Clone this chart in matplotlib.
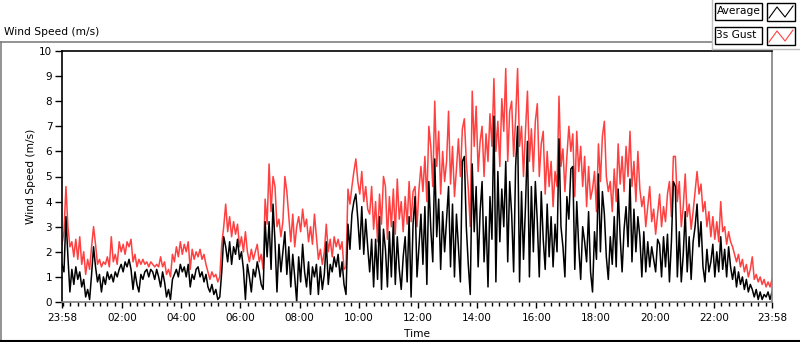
import matplotlib
matplotlib.use("Agg")
import matplotlib.pyplot as plt
import numpy as np
from matplotlib.lines import Line2D
from matplotlib.patches import Rectangle

# series, one sample every 4 minutes from 23:58 to 23:58
series_names = ["Average", "3s Gust"]

average = [
    1.5, 1.2, 3.4, 1.8, 0.4, 1.3, 0.7, 1.4, 0.9, 1.2, 0.6, 0.9, 0.2,
    0.5, 0.1, 1.1, 2.2, 1.4, 0.8, 1.1, 0.4, 1.0, 0.7, 1.2, 0.9, 1.1,
    0.8, 1.2, 1.0, 1.3, 1.5, 1.2, 1.6, 1.4, 1.7, 1.3, 0.5, 1.2, 0.7,
    0.4, 1.1, 0.9, 1.2, 1.3, 1.0, 1.3, 1.2, 0.9, 1.3, 1.0, 0.6, 1.2,
    # 03:26
    0.8, 0.2, 0.5, 0.1, 0.9, 1.1, 1.3, 1.0, 1.5, 1.2, 1.4, 1.0, 1.5,
    0.6, 1.1, 0.9, 1.3, 1.4, 1.0, 1.2, 0.8, 1.1, 0.6, 0.4, 0.7, 0.3,
    0.5, 0.1, 0.2, 1.2, 2.6, 2.2, 1.6, 2.4, 1.5, 2.2, 1.9, 2.5, 1.7,
    2.0, 1.3, 0.1, 1.5, 1.0, 0.4, 1.3, 1.0, 1.6, 1.2, 0.7, 0.5, 3.2,
    # 06:54
    1.8, 3.2, 1.3, 3.9, 2.4, 0.4, 2.3, 1.2, 2.0, 2.8, 1.1, 2.2, 0.6,
    1.9, 1.0, 0.0, 1.8, 0.8, 2.3, 1.2, 0.6, 1.6, 0.3, 1.4, 1.0, 1.5,
    0.3, 1.4, 0.5, 1.1, 2.4, 0.7, 1.5, 1.2, 1.8, 1.4, 1.9, 1.0, 1.6,
    0.7, 0.3, 3.1, 2.1, 3.5, 4.0, 4.3, 3.3, 2.1, 3.8, 1.9, 3.3, 2.2,
    # 10:22
    1.2, 2.5, 0.6, 2.5, 0.9, 3.4, 0.5, 2.9, 2.1, 0.6, 2.8, 1.0, 3.2,
    0.7, 2.6, 1.3, 0.5, 1.8, 2.6, 0.8, 3.4, 0.2, 3.1, 4.2, 1.0, 2.2,
    3.5, 1.5, 3.8, 0.7, 4.8, 2.9, 1.6, 5.7, 2.6, 4.1, 1.3, 3.6, 2.0,
    3.3, 4.6, 1.4, 3.9, 1.0, 3.5, 2.2, 0.8, 5.6, 5.8, 3.0, 1.5,
    # 13:46
    0.3, 5.5, 2.8, 4.6, 1.4, 3.6, 4.8, 1.6, 3.4, 0.6, 4.2, 2.5, 7.4,
    0.8, 5.2, 2.4, 4.5, 3.0, 5.6, 1.6, 4.8, 3.5, 1.2, 5.4, 7.0, 0.8,
    4.4, 1.7, 3.8, 6.4, 1.0, 4.6, 2.0, 4.8, 3.2, 1.0, 4.4, 2.5, 1.3,
    3.9, 1.8, 3.4, 1.4, 3.1, 2.0, 6.5, 3.0, 2.2, 1.0, 4.2, 3.3, 5.3,
    # 17:14
    5.4, 1.3, 4.0, 2.2, 0.9, 3.0, 2.4, 1.6, 3.6, 1.2, 0.4, 2.8, 1.7,
    5.1, 2.0, 4.4, 3.5, 1.8, 0.9, 2.6, 1.5, 3.4, 1.4, 4.5, 2.6, 1.2,
    2.9, 3.8, 2.2, 4.9, 1.6, 3.7, 2.0, 3.4, 2.6, 1.0, 2.8, 1.2, 2.4,
    1.4, 2.2, 1.7, 1.2, 2.5, 2.3, 1.0, 2.6, 1.4, 2.7, 0.8, 2.4, 4.8,
    # 20:42
    4.6, 1.0, 2.8, 0.8, 1.9, 3.6, 1.2, 2.6, 0.9, 2.4, 3.0, 3.9, 2.2,
    3.2, 1.4, 0.8, 2.1, 1.2, 1.6, 2.3, 1.0, 2.0, 1.2, 2.6, 1.3, 2.1,
    1.0, 2.2, 1.4, 0.9, 1.4, 0.6, 1.2, 0.7, 1.0, 0.5, 0.9, 0.4, 0.7,
    0.5, 0.2, 0.5, 0.1, 0.4, 0.1, 0.3, 0.2, 0.4, 0.1, 0.4,
]

gust = [
    2.3, 2.8, 4.6, 3.0, 2.2, 2.4, 1.8, 2.5, 1.7, 2.6, 1.5, 2.0, 1.1,
    1.7, 1.3, 2.2, 3.0, 2.3, 1.5, 1.7, 1.4, 1.6, 1.5, 1.8, 1.4, 2.6,
    1.6, 1.9, 1.5, 2.4, 2.0, 2.3, 1.9, 2.4, 2.2, 2.5, 1.6, 1.9, 1.4,
    1.7, 1.5, 1.7, 1.5, 1.6, 1.4, 1.6, 1.5, 1.4, 1.5, 1.4, 1.8, 1.4,
    # 03:26
    1.6, 1.1, 1.3, 1.0, 1.9, 1.6, 2.2, 1.8, 2.4, 1.9, 2.3, 2.0, 2.4,
    1.3, 2.1, 1.7, 2.0, 1.8, 2.1, 1.7, 1.9, 1.5, 1.2, 0.9, 1.2, 1.0,
    1.1, 0.8, 1.0, 2.3, 3.0, 3.9, 2.8, 3.4, 2.6, 3.2, 2.7, 3.1, 2.2,
    2.6, 2.0, 2.8, 2.0, 1.6, 2.1, 1.7, 2.0, 2.3, 1.6, 1.9, 1.3, 4.1,
    # 06:54
    3.1, 5.5, 3.6, 5.0, 4.6, 3.0, 3.3, 2.6, 3.2, 5.0, 4.4, 3.4, 2.4,
    3.5, 2.2, 3.0, 3.4, 2.8, 3.7, 3.0, 3.3, 2.4, 3.0, 2.3, 3.5, 2.6,
    1.7, 2.1, 1.5, 2.0, 3.1, 2.0, 2.5, 1.8, 2.6, 2.2, 2.5, 2.1, 2.4,
    1.3, 1.4, 4.5, 3.9, 4.6, 5.2, 5.7, 4.8, 4.3, 5.2, 4.0, 4.6, 3.7,
    # 10:22
    3.5, 4.6, 2.9, 4.0, 2.4, 4.3, 3.1, 5.0, 4.6, 2.5, 4.2, 3.0, 4.5,
    2.7, 4.9, 3.3, 4.0, 2.8, 4.2, 3.1, 4.8, 3.2, 4.4, 4.6, 3.0, 4.5,
    5.4, 4.4, 5.8, 4.0, 7.0, 6.2, 4.6, 8.0, 5.4, 6.8, 4.3, 6.0, 4.8,
    5.6, 7.6, 4.7, 6.2, 4.2, 5.3, 6.5, 5.0, 6.9, 7.3, 5.6, 4.5,
    # 13:46
    3.0, 8.4, 6.2, 7.8, 5.2, 6.4, 7.0, 5.0, 6.7, 5.6, 7.5, 6.2, 8.9,
    6.0, 7.2, 5.4, 8.1, 6.8, 9.3, 5.6, 7.6, 8.0, 5.8, 7.3, 9.3, 6.2,
    7.0, 5.0, 6.8, 8.4, 5.6, 6.9, 5.2, 7.2, 7.9, 5.0, 6.3, 6.8, 4.3,
    6.0, 4.6, 5.6, 3.8, 5.2, 4.6, 8.2, 5.4, 6.1, 4.4, 5.8, 7.0, 6.0,
    # 17:14
    6.7, 4.2, 6.8, 5.2, 6.2, 4.6, 5.8, 3.8, 5.4, 4.1, 4.5, 5.2, 3.6,
    6.3, 4.8, 6.6, 7.2, 5.0, 4.4, 4.8, 3.6, 5.3, 4.0, 6.3, 4.7, 5.8,
    4.4, 6.2, 5.0, 6.8, 4.6, 5.6, 4.0, 6.0, 4.5, 3.8, 4.2, 3.0, 3.8,
    4.6, 3.2, 3.7, 2.7, 3.5, 4.3, 3.0, 3.8, 3.2, 4.3, 4.8, 3.4, 5.8,
    # 20:42
    5.8, 4.0, 4.8, 3.0, 3.8, 5.1, 3.4, 3.9, 2.9, 3.6, 4.4, 5.2, 4.3,
    4.7, 3.6, 4.0, 3.0, 3.6, 2.6, 3.4, 2.5, 3.2, 2.4, 4.0, 2.8, 3.0,
    2.3, 2.8, 2.4, 2.2, 1.9, 1.6, 1.9, 1.4, 1.7, 1.2, 1.5, 1.0, 1.3,
    1.8, 0.9, 1.1, 0.8, 1.0, 0.7, 0.9, 0.6, 0.8, 0.6, 0.9,
]

start_label = "23:58"
tick_labels = ["23:58", "02:00", "04:00", "06:00", "08:00", "10:00", "12:00",
               "14:00", "16:00", "18:00", "20:00", "22:00", "23:58"]


def to_minutes(label):
    h, m = label.split(":")
    return int(h) * 60 + int(m)


span = 24 * 60
t0 = to_minutes(start_label)
times = np.linspace(0, span, len(average))
tick_pos = [(to_minutes(l) - t0) % span for l in tick_labels[:-1]] + [span]
minor_pos = np.arange((-t0) % 15, span + 1, 15)

W, H = 800, 342
plt.rcParams['font.family'] = ['DejaVu Sans']
fig = plt.figure(figsize=(W / 100, H / 100), dpi=100)


def fx(x):
    return x / W


def fy(y):
    return 1 - y / H


ax = fig.add_axes([fx(62), fy(302), fx(772) - fx(62), fy(51) - fy(302)])
ax.plot(times, gust, color='#ff4040', lw=1.1)
ax.plot(times, average, color='black', lw=1.1)
ax.set_xlim(0, span)
ax.set_ylim(0, 10)
ax.set_yticks(range(0, 11))
ax.set_xticks(tick_pos)
ax.set_xticklabels(tick_labels)
ax.set_xticks(minor_pos, minor=True)
ax.tick_params(axis='y', length=5, width=1, labelsize=7.5, pad=2)
ax.tick_params(axis='x', which='major', length=4, width=1, labelsize=7.5, pad=4)
ax.tick_params(axis='x', which='minor', length=3, width=1)
for s in ['top', 'left']:
    ax.spines[s].set_color('black')
for s in ['bottom', 'right']:
    ax.spines[s].set_color('#808080')
for s in ax.spines.values():
    s.set_linewidth(1.2)
ax.set_ylabel("Wind Speed (m/s)", fontsize=7.7, labelpad=2)
ax.set_xlabel("Time", fontsize=7.7, labelpad=4)

# panel frame and caption
fig.text(fx(4), fy(32), "Wind Speed (m/s)", fontsize=7.7, va='center', ha='left')
fig.add_artist(Line2D([fx(0), fx(712)], [fy(42), fy(42)], color='#808080', lw=1.2))
fig.add_artist(Line2D([fx(0.6), fx(0.6)], [fy(42), fy(341)], color='#808080', lw=1.2))
fig.add_artist(Line2D([fx(0), fx(800)], [fy(341), fy(341)], color='black', lw=1.5))
fig.add_artist(Line2D([fx(712), fx(712)], [fy(0), fy(49)], color='#c0c0c0', lw=1.0))
fig.add_artist(Line2D([fx(712), fx(800)], [fy(49), fy(49)], color='#c0c0c0', lw=1.0))

# legend boxes
colors = ['black', '#ff4040']
for k, (name, c) in enumerate(zip(series_names, colors)):
    y0 = 3 + 24 * k
    fig.add_artist(Rectangle((fx(715), fy(y0 + 17)), fx(47), 17 / H, fill=False,
                             ec='black', lw=1.0, transform=fig.transFigure))
    fig.text(fx(716.5), fy(y0 + 8.5), name, fontsize=7.7, va='center', ha='left')
    fig.add_artist(Rectangle((fx(767), fy(y0 + 18)), fx(28), 18 / H, fill=False,
                             ec='black', lw=1.0, transform=fig.transFigure))
    zx = [769, 777, 785, 793]
    zy = [y0 + 15, y0 + 4, y0 + 14, y0 + 3]
    fig.add_artist(Line2D([fx(v) for v in zx], [fy(v) for v in zy], color=c, lw=0.8))

fig.savefig("out.png", dpi=100)
